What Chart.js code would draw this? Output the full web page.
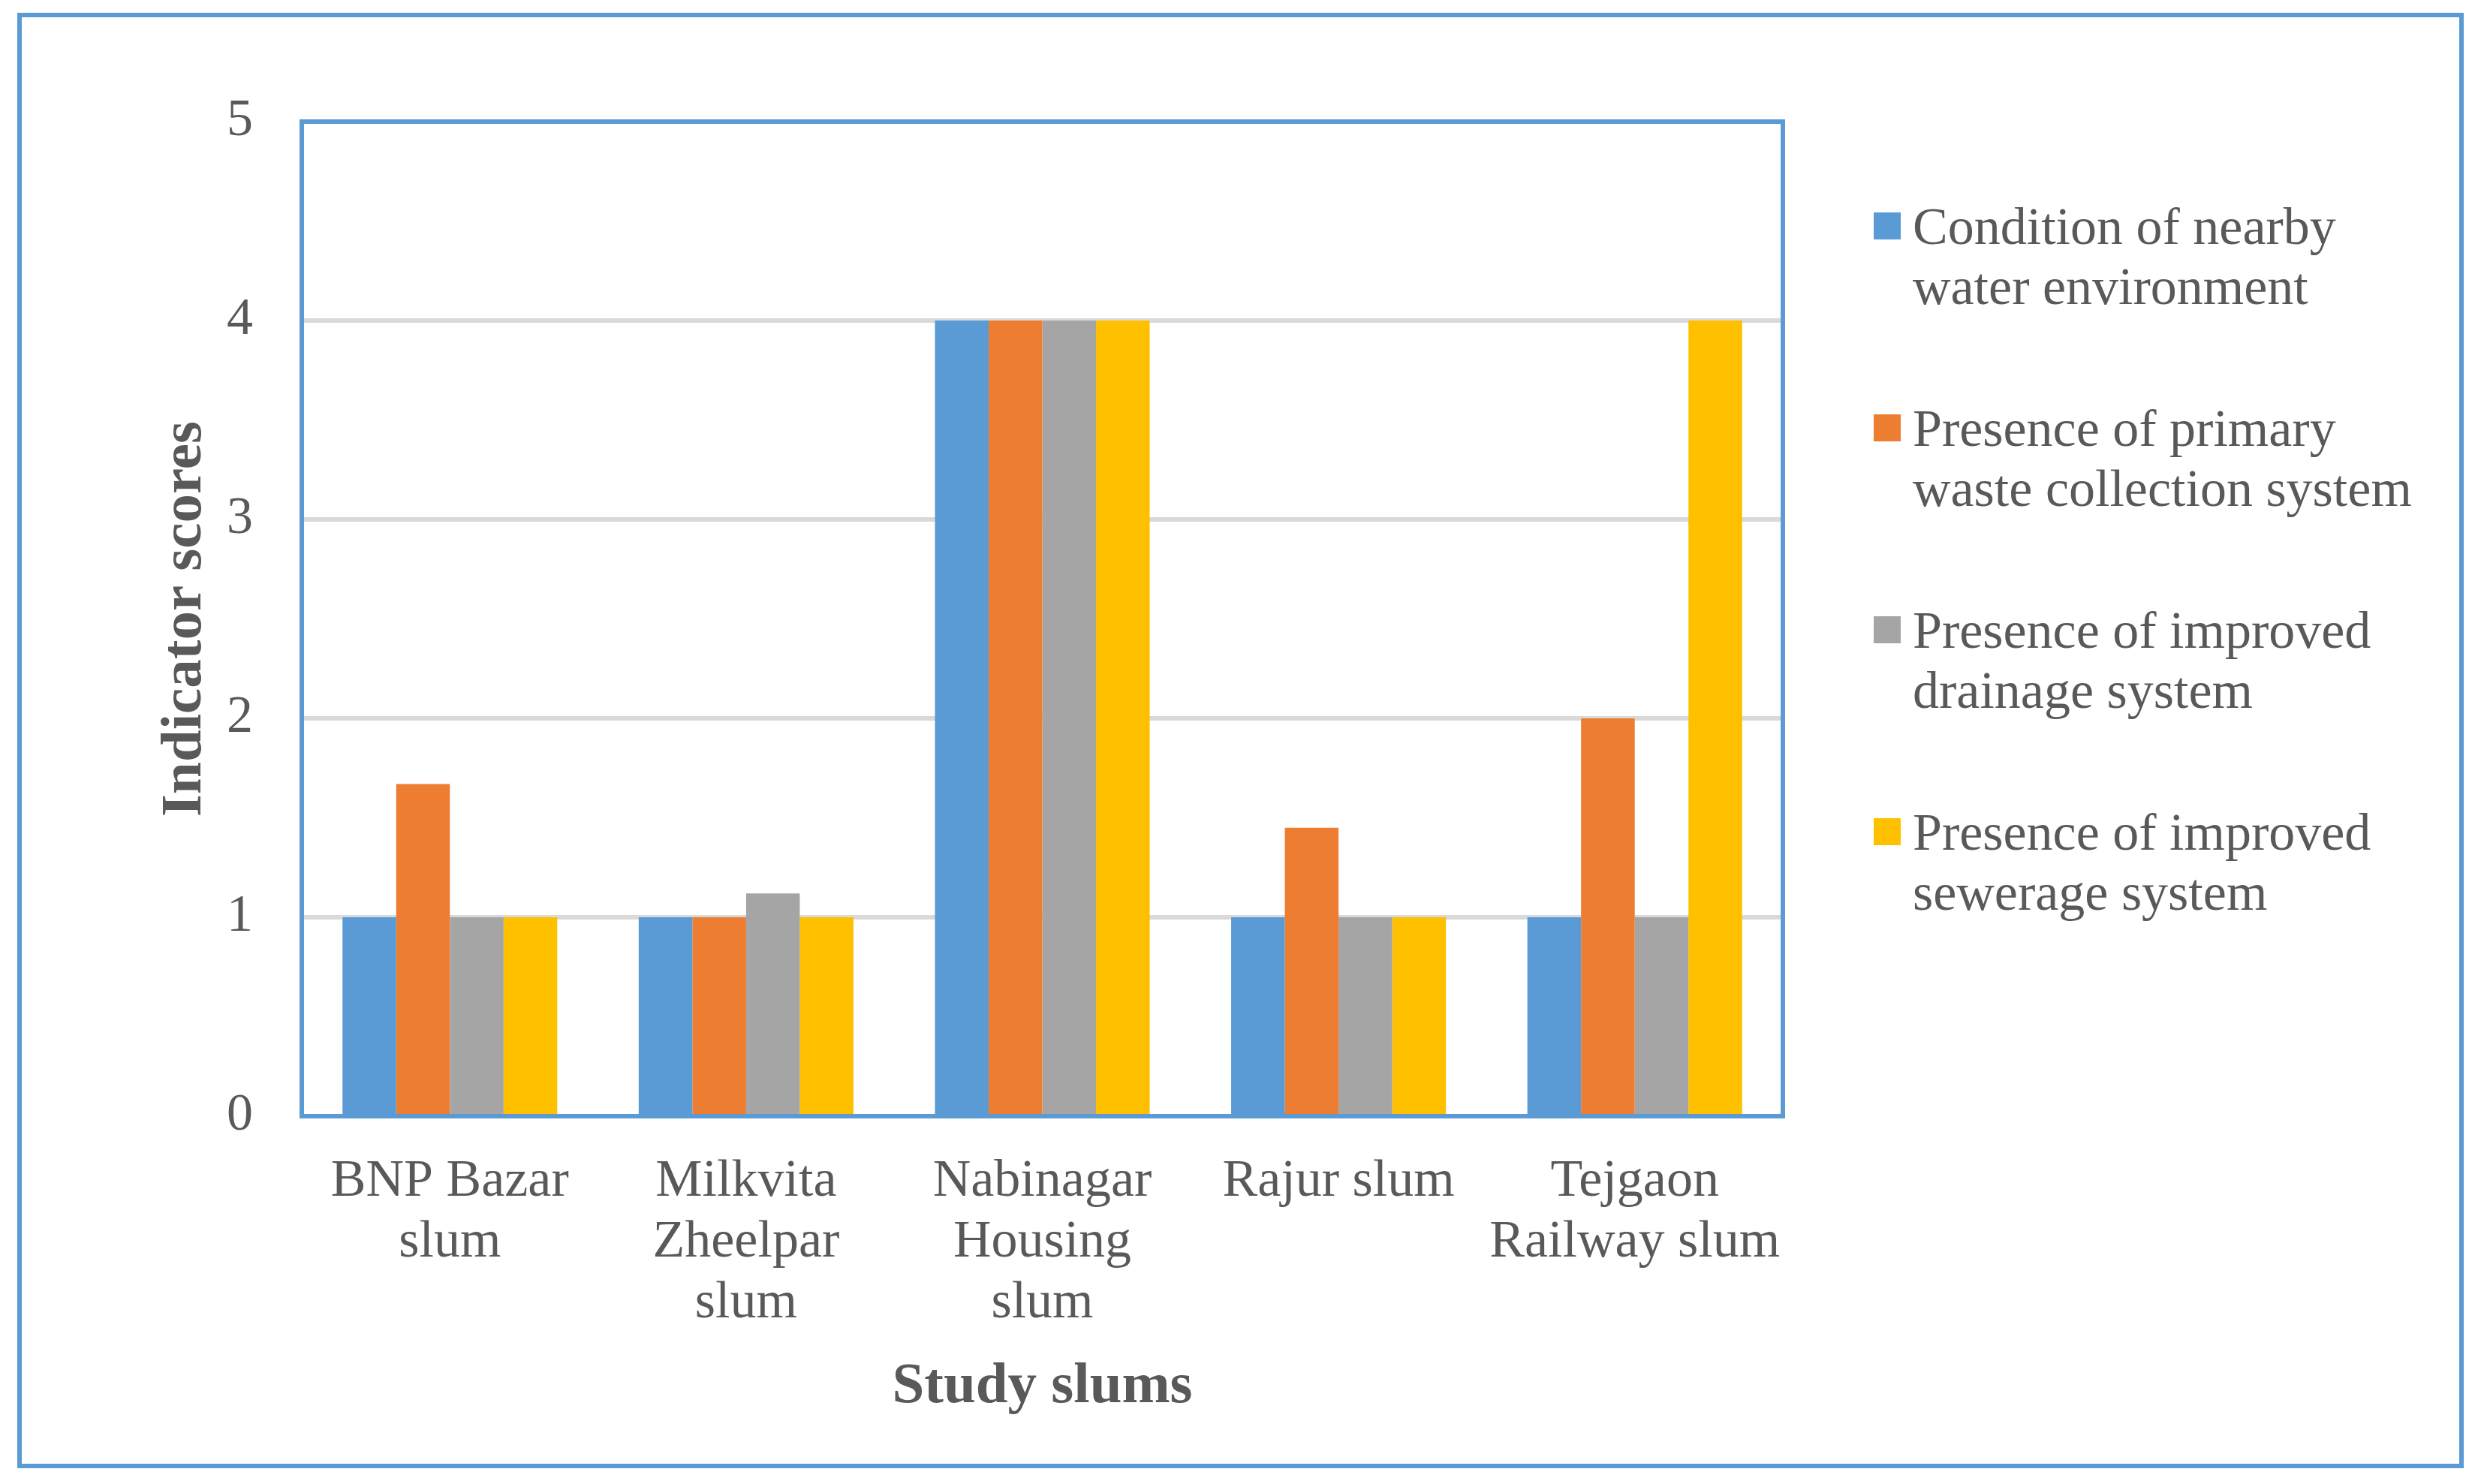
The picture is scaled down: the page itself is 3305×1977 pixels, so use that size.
<!DOCTYPE html>
<html>
<head>
<meta charset="utf-8">
<script src="https://cdn.jsdelivr.net/npm/chart.js@4.4.0/dist/chart.umd.min.js"></script>
<style>
  html, body { margin: 0; padding: 0; background: #fff; }
  #wrap { width: 3305px; height: 1977px; position: relative; }
</style>
</head>
<body>
<div id="wrap"><canvas id="chart"></canvas></div>
<script>
// data
const slums = [
    ['BNP Bazar', 'slum'],
    ['Milkvita', 'Zheelpar', 'slum'],
    ['Nabinagar', 'Housing', 'slum'],
    ['Rajur slum'],
    ['Tejgaon', 'Railway slum']
];
const seriesNames = [
    ['Condition of nearby', 'water environment'],
    ['Presence of primary', 'waste collection system'],
    ['Presence of improved', 'drainage system'],
    ['Presence of improved', 'sewerage system']
];
const waterEnv   = [1, 1, 4, 1, 1];
const wasteColl  = [1.67, 1, 4, 1.45, 2];
const drainage   = [1, 1.12, 4, 1, 1];
const sewerage   = [1, 1, 4, 1, 4];
const yTicks = [0, 1, 2, 3, 4, 5];

const colors = ['#5B9BD5', '#ED7D31', '#A5A5A5', '#FFC000'];
const textColor = '#595959';
const serif = "'Liberation Serif', 'Times New Roman', serif";

const boxesPlugin = {
    id: 'boxes',
    afterDatasetsDraw(chart) {
        const ctx = chart.ctx;
        const a = chart.chartArea;
        ctx.save();
        ctx.strokeStyle = '#5B9BD5';
        ctx.lineWidth = 6;
        ctx.strokeRect(a.left, a.top, a.right - a.left, a.bottom - a.top);
        ctx.restore();
    },
    afterDraw(chart) {
        const ctx = chart.ctx;
        ctx.save();
        // outer frame
        ctx.strokeStyle = '#5B9BD5';
        ctx.lineWidth = 6;
        ctx.strokeRect(26, 20, 3253, 1933);
        // legend
        ctx.font = '70px ' + serif;
        ctx.textBaseline = 'alphabetic';
        ctx.textAlign = 'left';
        chart.data.datasets.forEach((ds, i) => {
            const base = 325 + i * 269;
            ctx.fillStyle = ds.backgroundColor;
            ctx.fillRect(2496, base - 42, 36, 36);
            ctx.fillStyle = textColor;
            seriesNames[i].forEach((line, j) => {
                ctx.fillText(line, 2548, base + j * 80);
            });
        });
        ctx.restore();
    }
};

const series = [waterEnv, wasteColl, drainage, sewerage];

new Chart(document.getElementById('chart'), {
    type: 'bar',
    data: {
        labels: slums,
        datasets: series.map((vals, i) => ({
            label: seriesNames[i].join(' '),
            data: vals,
            backgroundColor: colors[i],
            borderWidth: 0,
            categoryPercentage: 0.725,
            barPercentage: 1
        }))
    },
    options: {
        responsive: true,
        maintainAspectRatio: false,
        devicePixelRatio: 1,
        animation: false,
        layout: {
            padding: { left: 197, right: 930, top: 162, bottom: 79 }
        },
        plugins: {
            legend: { display: false },
            tooltip: { enabled: false }
        },
        scales: {
            x: {
                grid: { display: false, drawTicks: false },
                border: { display: false },
                ticks: {
                    color: textColor,
                    padding: 47,
                    maxRotation: 0,
                    autoSkip: false,
                    font: { family: serif, size: 70, lineHeight: 1.157 }
                },
                title: {
                    display: true,
                    text: 'Study slums',
                    color: textColor,
                    font: { family: serif, size: 77, weight: 'bold', lineHeight: 1.2 }
                },
                afterFit(scale) { scale.height = 411; }
            },
            y: {
                min: 0,
                max: 5,
                grid: { color: '#D9D9D9', lineWidth: 6, drawTicks: false },
                border: { display: false },
                ticks: {
                    color: textColor,
                    padding: 65,
                    stepSize: 1,
                    font: { family: serif, size: 70 },
                    callback: (v) => yTicks.includes(v) ? String(v) : ''
                },
                title: {
                    display: true,
                    text: 'Indicator scores',
                    color: textColor,
                    font: { family: serif, size: 77, weight: 'bold', lineHeight: 1.2 }
                },
                afterFit(scale) { scale.width = 205; }
            }
        }
    },
    plugins: [boxesPlugin]
});
</script>
</body>
</html>
